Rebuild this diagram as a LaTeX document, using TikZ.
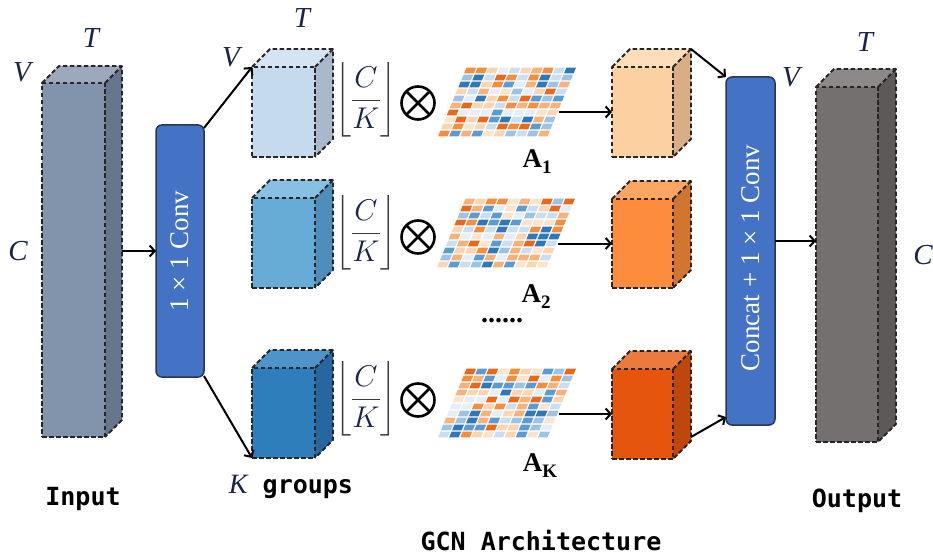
\documentclass[tikz,border=0pt]{standalone}
\usepackage{fix-cm}
\usepackage{amsmath}
\usepackage{fontspec}
\setmainfont{Liberation Serif}
\newfontfamily\monof{DejaVu Sans Mono}
\usetikzlibrary{arrows.meta,calc}

\definecolor{navy}{HTML}{1A2444}
\definecolor{brk}{HTML}{3A3A3A}
\definecolor{convblue}{HTML}{4472C4}
\definecolor{convedge}{HTML}{2A3650}
% input / output
\definecolor{inF}{HTML}{8294AC}\definecolor{inT}{HTML}{9CA8BC}\definecolor{inS}{HTML}{67768D}
\definecolor{ouF}{HTML}{74706F}\definecolor{ouT}{HTML}{8C8988}\definecolor{ouS}{HTML}{5C5958}
% blue cubes
\definecolor{bAF}{HTML}{C6DAEE}\definecolor{bAT}{HTML}{D5E4F3}\definecolor{bAS}{HTML}{A8B9CB}
\definecolor{bBF}{HTML}{67ABD7}\definecolor{bBT}{HTML}{88C0E3}\definecolor{bBS}{HTML}{4F8DBB}
\definecolor{bCF}{HTML}{2E7EBC}\definecolor{bCT}{HTML}{4E94C9}\definecolor{bCS}{HTML}{2667A0}
% orange cubes
\definecolor{oAF}{HTML}{FCD0A1}\definecolor{oAT}{HTML}{FDDDBA}\definecolor{oAS}{HTML}{D8AE86}
\definecolor{oBF}{HTML}{FD8D3C}\definecolor{oBT}{HTML}{FCA662}\definecolor{oBS}{HTML}{D2752F}
\definecolor{oCF}{HTML}{E6550D}\definecolor{oCT}{HTML}{EC7A3C}\definecolor{oCS}{HTML}{BF470B}
% matrix palette
\definecolor{mc1}{HTML}{E8691C}\definecolor{mc2}{HTML}{F28E3C}\definecolor{mc3}{HTML}{F7B27A}
\definecolor{mc4}{HTML}{FBD5B0}\definecolor{mc5}{HTML}{2E78BA}\definecolor{mc6}{HTML}{5B9BD0}
\definecolor{mc7}{HTML}{9CC3E6}\definecolor{mc8}{HTML}{C9DEF1}\definecolor{mc9}{HTML}{E3EEF8}
\definecolor{mc10}{HTML}{FCE3CC}

\tikzset{
  dsh/.style={draw=black!85, line width=1.8pt, dash pattern=on 4.5pt off 2.5pt, line join=round},
  arr/.style={line width=2pt, -{Straight Barb[length=5pt,width=11pt,line width=2pt]}},
  convbox/.style={draw=convedge, line width=1.5pt, fill=convblue, rounded corners=6pt, inner sep=0pt, outer sep=0pt},
  convtxt/.style={rotate=90, text=white, font=\fontsize{27}{27}\selectfont, inner sep=0pt},
  lbl/.style={font=\fontsize{29}{29}\selectfont\itshape, text=navy, inner sep=0pt},
  mono/.style={font=\monof\bfseries\fontsize{25}{25}\selectfont, inner sep=0pt, anchor=base},
  otim/.style={circle, draw=black, line width=2.6pt, minimum size=33pt, inner sep=0pt, outer sep=0pt},
  frac/.style={font=\fontsize{30}{34}\selectfont, text=brk, inner sep=0pt},
  alab/.style={font=\fontsize{27}{27}\selectfont\bfseries, text=black, inner sep=0pt},
}

% name, x, y (top-left of front face), w, h, front, top, side, depth
\newcommand{\drawcube}[9]{%
  \fill[#7] (#2,#3) -- ++(#9,-#9) -- ++(#4,0) -- ++(-#9,#9) -- cycle;
  \fill[#8] ({#2+#4},#3) -- ++(#9,-#9) -- ++(0,#5) -- ++(-#9,#9) -- cycle;
  \draw[dsh] (#2,#3) -- ++(#9,-#9) -- ++(#4,0) -- ++(0,#5) -- ++(-#9,#9);
  \draw[dsh] ({#2+#4},#3) -- ++(#9,-#9);
  \node[dsh, fill=#6, minimum width=#4pt, minimum height=#5pt, inner sep=0pt, outer sep=0pt, anchor=north west] (#1) at (#2,#3) {};
}

% name, x, y (bottom-left), seed
\newcommand{\adjmat}[4]{%
  \pgfmathsetseed{#4}
  \begin{scope}[shift={(#2,#3)}, x=11.1pt, y={(2.9pt,7pt)}]
    \foreach \i in {0,...,9}{\foreach \j in {0,...,9}{%
      \pgfmathrandominteger{\rc}{1}{10}%
      \fill[mc\rc] (\i+0.07,\j+0.1) -- (\i+0.93,\j+0.1) -- (\i+0.93,\j+0.9) -- (\i+0.07,\j+0.9) -- cycle;}}
    \coordinate (#1) at (10,3.7);
  \end{scope}
}

\begin{document}
\begin{tikzpicture}[x=1pt,y=-1pt]
\useasboundingbox (0,0) rectangle (933,556);

% input and output blocks
\drawcube{inp}{42}{83}{63}{354}{inF}{inT}{inS}{17}
\drawcube{out}{816}{87}{62}{355}{ouF}{ouT}{ouS}{18}

% conv boxes
\node[convbox, minimum width=48pt, minimum height=252pt] (conv1) at (180,251) {};
\node[convtxt] (conv1t) at (conv1.center) {1 × 1 Conv};
\node[convbox, minimum width=49pt, minimum height=348pt] (conv2) at (750.5,251) {};
\node[convtxt] (conv2t) at (750.5,258) {Concat + 1 × 1 Conv};

% blue group cubes
\drawcube{c1}{252}{67}{63}{90}{bAF}{bAT}{bAS}{18}
\drawcube{c2}{252}{198}{63}{90}{bBF}{bBT}{bBS}{18}
\drawcube{c3}{252}{368}{63}{90}{bCF}{bCT}{bCS}{18}

% orange output cubes
\drawcube{o1}{612}{67}{61}{90}{oAF}{oAT}{oAS}{18}
\drawcube{o2}{612}{199}{61}{89}{oBF}{oBT}{oBS}{18}
\drawcube{o3}{612}{369}{61}{90}{oCF}{oCT}{oCS}{18}

% floor fractions and otimes
\node[frac] (f1) at (366,100) {$\left\lfloor\rule[-28pt]{0pt}{64pt}\dfrac{\textcolor{navy}{C}}{\textcolor{navy}{K}}\right\rfloor$};
\node[frac] (f2) at (366,233) {$\left\lfloor\rule[-28pt]{0pt}{64pt}\dfrac{\textcolor{navy}{C}}{\textcolor{navy}{K}}\right\rfloor$};
\node[frac] (f3) at (366,399) {$\left\lfloor\rule[-28pt]{0pt}{64pt}\dfrac{\textcolor{navy}{C}}{\textcolor{navy}{K}}\right\rfloor$};
\foreach \n/\yy in {ot1/103, ot2/237, ot3/400}{
  \node[otim] (\n) at (418,\yy) {};
  \draw[line width=2.6pt] (\n.north west) -- (\n.south east) (\n.north east) -- (\n.south west);
}

% adjacency matrices
\adjmat{m1}{437}{137}{11}
\adjmat{m2}{436}{268}{23}
\adjmat{m3}{437}{438}{37}

\node[alab] (a1) at (537,162) {A\raisebox{-6pt}{\fontsize{19}{19}\selectfont 1}};
\node[alab] (a2) at (536,297) {A\raisebox{-6pt}{\fontsize{19}{19}\selectfont 2}};
\node[alab] (ak) at (540,466) {A\raisebox{-6pt}{\fontsize{19}{19}\selectfont K}};
\node[font=\fontsize{28}{28}\selectfont\bfseries, inner sep=0pt] (dots) at (502,321) {......};

% connectors
\coordinate (inpR) at ($(inp.north east)+(17,0)$);
\draw[arr] (inpR |- conv1.west) -- (conv1.west);
\draw[arr] ($(conv1.north east)+(0,3)$) -- (c1.north west);
\draw[arr] ($(conv1.south east)+(0,-1)$) -- (c3.south west);
\draw[arr] (m1 |- o1.west) -- (o1.west);
\draw[arr] (m2 |- o2.west) -- (o2.west);
\draw[arr] (m3 |- o3.west) -- (o3.west);
\draw[arr] ($(o1.north east)+(18,-18)$) -- (conv2.north west);
\draw[arr] ($(o3.south east)+(18,-22)$) -- ($(conv2.south west)+(0,-8)$);
\draw[arr] ($(conv2.east)+(0,-10)$) coordinate (cE) -- (cE -| out.west);

% dimension labels
\node[lbl] (tin) at (91,38) {T};
\node[lbl] (vin) at (22,72) {V};
\node[lbl] (cin) at (18,251) {C};
\node[lbl] (vg) at (231,57) {V};
\node[lbl] (tg) at (302,18) {T};
\node[lbl] (vo) at (791,77) {V};
\node[lbl] (to) at (865,42) {T};
\node[lbl] (co) at (923,255) {C};

% captions
\node[mono] (lin) at (83,505) {Input};
\node[mono] (lout) at (857,507) {Output};
\node[mono] (lk) at (291,493) {{\fontsize{28}{28}\selectfont\rmfamily\mdseries\itshape\color{navy}K} groups};
\node[mono] (lgcn) at (541,550) {GCN Architecture};
\end{tikzpicture}
\end{document}
